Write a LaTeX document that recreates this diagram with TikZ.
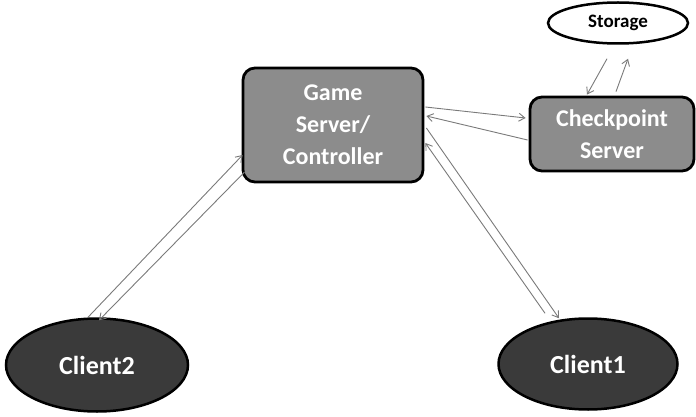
\documentclass[tikz,border=0pt]{standalone}
\usepackage{fontspec}
\setmainfont{Carlito}
\usetikzlibrary{arrows.meta,shapes.geometric}
\definecolor{boxgray}{HTML}{8C8C8C}
\definecolor{clientdark}{HTML}{3A3A3A}
\definecolor{linegray}{HTML}{7A7A7A}
\tikzset{
  srvbox/.style={draw=black, line width=2.8pt, fill=boxgray, rounded corners=12pt,
    text=white, font=\bfseries\fontsize{24}{32}\selectfont, align=center, inner sep=0pt},
  clientnode/.style={ellipse, draw=black, line width=2.5pt, fill=clientdark, text=white,
    font=\bfseries\fontsize{26}{30}\selectfont, inner sep=0pt},
  storenode/.style={ellipse, draw=black, line width=2.5pt, fill=white,
    font=\bfseries\fontsize{19}{22}\selectfont, inner sep=0pt},
  conn/.style={draw=linegray, line width=0.9pt, -{Straight Barb[length=6pt,width=8pt,line width=0.9pt]}}
}
\begin{document}
\begin{tikzpicture}[x=1pt,y=-1pt]
\useasboundingbox (0,0) rectangle (696,417);
\node[srvbox, minimum width=180pt, minimum height=114pt] (game) at (333,125) {Game\\Server/\\Controller};
\node[srvbox, minimum width=164pt, minimum height=74pt] (cp) at (612,134) {Checkpoint\\Server};
\node[storenode, minimum width=140pt, minimum height=41pt] (store) at (618,23) {Storage};
\node[clientnode, minimum width=182pt, minimum height=93pt] (c2) at (97,365) {Client2};
\node[clientnode, minimum width=179pt, minimum height=91pt] (c1) at (588,364) {Client1};
% Game <-> Client2
\draw[conn] ([xshift=-9pt]c2.north) -- ([yshift=-30pt,xshift=1pt]game.west);
\draw[conn] ([yshift=-47pt,xshift=3pt]game.west) -- ([xshift=2pt,yshift=-3pt]c2.north);
% Game <-> Client1
\draw[conn] ([yshift=-3pt,xshift=2pt]game.east) -- ([xshift=-29pt,yshift=-1pt]c1.north);
\draw[conn] ([xshift=-43pt,yshift=4pt]c1.north) -- ([yshift=-18pt,xshift=1pt]game.east);
% Game <-> Checkpoint
\draw[conn] ([yshift=18pt,xshift=1pt]game.east) -- ([yshift=16pt,xshift=-3pt]cp.west);
\draw[conn] ([yshift=-6pt,xshift=-1pt]cp.west) -- ([yshift=9pt,xshift=2pt]game.east);
% Checkpoint <-> Storage
\draw[conn] ([xshift=-11pt,yshift=-14pt]store.south) -- ([xshift=-25pt,yshift=1pt]cp.north);
\draw[conn] ([xshift=4pt,yshift=4pt]cp.north) -- ([xshift=10pt,yshift=-14pt]store.south);
\end{tikzpicture}
\end{document}
